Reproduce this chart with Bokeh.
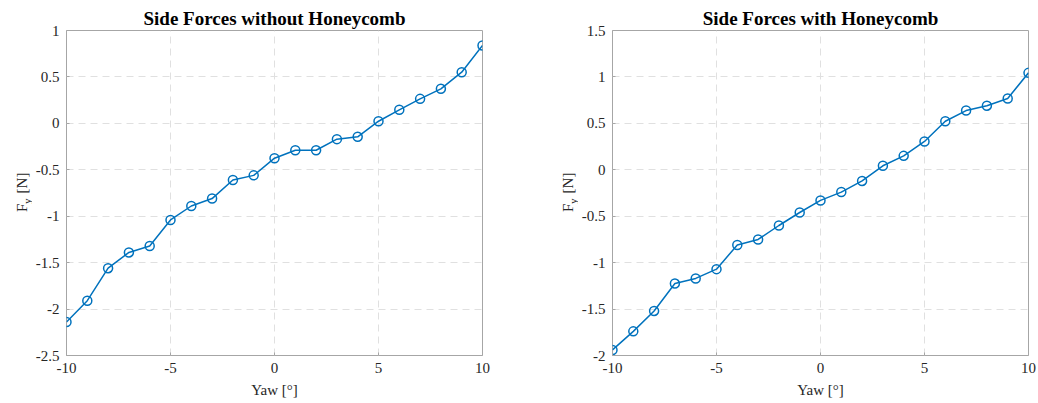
import math
from bokeh.plotting import figure
from bokeh.layouts import row
from bokeh.models import Range1d, FixedTicker
from bokeh.core.properties import value
from bokeh.embed import file_html
from bokeh.resources import INLINE

yaw = [-10, -9, -8, -7, -6, -5, -4, -3, -2, -1, 0, 1, 2, 3, 4, 5, 6, 7, 8, 9, 10]
fy_without = [-2.14, -1.91, -1.56, -1.39, -1.32, -1.04, -0.89, -0.81, -0.61, -0.56, -0.375,
              -0.29, -0.29, -0.17, -0.145, 0.023, 0.146, 0.264, 0.372, 0.551, 0.838]
fy_with = [-1.94, -1.74, -1.52, -1.225, -1.17, -1.07, -0.81, -0.75, -0.60, -0.46, -0.33,
           -0.24, -0.12, 0.043, 0.15, 0.305, 0.523, 0.638, 0.69, 0.768, 1.044]

x_ticks = [-10, -5, 0, 5, 10]
x_tick_labels = ["-10", "-5", "0", "5", "10"]
y_ticks_left = [-2.5, -2, -1.5, -1, -0.5, 0, 0.5, 1]
y_tick_labels_left = ["-2.5", "-2", "-1.5", "-1", "-0.5", "0", "0.5", "1"]
y_ticks_right = [-2, -1.5, -1, -0.5, 0, 0.5, 1, 1.5]
y_tick_labels_right = ["-2", "-1.5", "-1", "-0.5", "0", "0.5", "1", "1.5"]

titles = ["Side Forces without Honeycomb", "Side Forces with Honeycomb"]
x_label = "Yaw [°]"
y_label_main = "F"
y_label_sub = "y"
y_label_unit = "[N]"

FONT = "Liberation Serif"
BLUE = "#0072BD"
BOX = "#a6a6a6"
GRID = "#e0e0e0"
TXT = "#262626"
H = 403


def label_fig(width, baseline_x):
    f = figure(width=width, height=H, output_backend="svg", toolbar_location=None,
               x_range=Range1d(0, width), y_range=Range1d(0, H),
               min_border=0, min_border_left=0, min_border_right=0,
               min_border_top=0, min_border_bottom=0)
    f.title = None
    f.axis.visible = False
    f.grid.visible = False
    f.outline_line_color = None
    f.background_fill_color = "white"
    f.border_fill_color = "white"
    common = dict(angle=math.pi / 2, text_font=value(FONT), text_color=TXT,
                  text_align="left", text_baseline="alphabetic")
    f.text(x=[baseline_x], y=[H - 225], text=[y_label_main],
           text_font_size=value("15px"), **common)
    f.text(x=[baseline_x + 5], y=[H - 215], text=[y_label_sub],
           text_font_size=value("11px"), **common)
    f.text(x=[baseline_x], y=[H - 202], text=[y_label_unit],
           text_font_size=value("15px"), **common)
    return f


def make(title, ys, yr, yticks, ylabels, width, border_left, border_right):
    p = figure(width=width, height=H, output_backend="svg", toolbar_location=None,
               x_range=Range1d(-10, 10), y_range=Range1d(*yr),
               min_border_left=border_left, min_border_right=border_right,
               min_border_top=30, min_border_bottom=48)
    p.title.text = title
    p.title.align = "center"
    p.title.text_font = FONT
    p.title.text_font_size = "19px"
    p.title.text_font_style = "bold"
    p.title.text_color = "#000000"
    p.title.standoff = 4
    p.outline_line_color = BOX
    p.outline_line_width = 1
    p.background_fill_color = "white"
    p.border_fill_color = "white"

    p.xaxis.ticker = FixedTicker(ticks=x_ticks)
    p.xaxis.major_label_overrides = {t: l for t, l in zip(x_ticks, x_tick_labels)}
    p.yaxis.ticker = FixedTicker(ticks=yticks)
    p.yaxis.major_label_overrides = {t: l for t, l in zip(yticks, ylabels)}
    for ax in (p.xaxis, p.yaxis):
        ax.axis_line_color = None
        ax.major_tick_in = 3
        ax.major_tick_out = 0
        ax.major_tick_line_color = BOX
        ax.minor_tick_line_color = None
        ax.major_label_text_font = FONT
        ax.major_label_text_font_size = "15px"
        ax.major_label_text_color = TXT
        ax.axis_label_text_font = FONT
        ax.axis_label_text_font_style = "normal"
        ax.axis_label_text_font_size = "15px"
        ax.axis_label_text_color = TXT
    p.xaxis.major_label_standoff = 7
    p.yaxis.major_label_standoff = 7
    p.xaxis.axis_label = x_label
    p.xaxis.axis_label_standoff = 6

    for g in (p.xgrid, p.ygrid):
        g.grid_line_color = GRID
        g.grid_line_dash = "7 5"
        g.grid_line_width = 1
    p.xgrid.ticker = FixedTicker(ticks=x_ticks)
    p.ygrid.ticker = FixedTicker(ticks=yticks)

    p.line(yaw, ys, line_color=BLUE, line_width=1.5)
    p.scatter(yaw, ys, marker="circle", size=9, fill_color=None,
              line_color=BLUE, line_width=1.5)
    return p


l1 = label_fig(32, 21)
p1 = make(titles[0], fy_without, (-2.5, 1), y_ticks_left, y_tick_labels_left, 487, 34, 37)
l2 = label_fig(59, 48)
p2 = make(titles[1], fy_with, (-2, 1.5), y_ticks_right, y_tick_labels_right, 460, 34, 10)

layout = row(l1, p1, l2, p2)
open("out.html", "w").write(file_html(layout, INLINE))
